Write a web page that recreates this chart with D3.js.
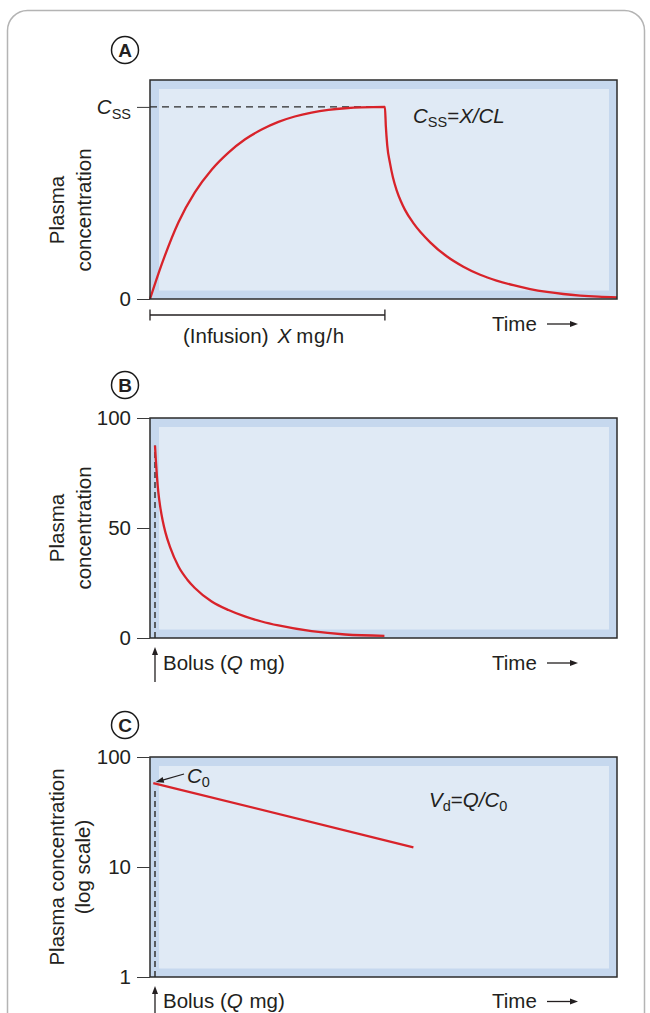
<!DOCTYPE html>
<html>
<head>
<meta charset="utf-8">
<script src="https://cdn.jsdelivr.net/npm/d3@7"></script>
<style>
  html, body { margin: 0; padding: 0; background: #ffffff; }
  svg { display: block; }
  text { font-family: "Liberation Sans", Arial, Helvetica, sans-serif; fill: #231f20; }
</style>
</head>
<body>
<svg id="chart" width="650" height="1013"></svg>
<script>
// ---------------- DATA ----------------
// Panel A: constant-rate infusion (concentration in % of Css), time in arbitrary units
const riseTime   = [0, 0.25, 0.61, 0.96, 1.32, 1.68, 2.03, 2.39, 2.75, 3.10, 3.46, 3.82, 4.18, 4.53, 5.03];
const riseConc   = [0, 18, 40, 55.5, 67.3, 76.2, 83, 88.2, 92.2, 95, 97, 98.4, 99.3, 99.8, 100];
const washTime   = [5.03, 5.05, 5.08, 5.14, 5.20, 5.28, 5.37, 5.46, 5.64, 6.00, 6.36, 6.71, 7.07, 7.42, 7.78, 8.14, 8.50, 8.85, 9.21, 9.60, 10.0];
const washConc   = [100, 90, 80, 70.6, 63.5, 56.7, 51, 46.4, 39.5, 29.5, 22.1, 16.8, 12.6, 9.6, 7.2, 5.2, 3.7, 2.6, 1.8, 1.2, 0.8];
const infusionEnd = 5.03;
const aTickValues = [0, 100];
const aTickLabels = ["0", "Css"];

// Panel B: IV bolus, linear scale
const bolusTime  = [0.107, 0.125, 0.15, 0.18, 0.22, 0.27, 0.33, 0.43, 0.61, 0.80, 0.96, 1.32, 1.68, 2.03, 2.39, 2.75, 3.46, 4.18, 5.02];
const bolusConc  = [87.5, 81, 73, 66, 59.5, 53.5, 48, 41.3, 32.5, 26.5, 22.7, 16.6, 12.7, 9.8, 7.5, 5.7, 3.1, 1.6, 1.0];
const bolusAt    = 0.107;
const bTickValues = [0, 50, 100];

// Panel C: IV bolus, log scale
const logTime    = [0.07, 5.64];
const logConc    = [58, 15.1];
const cTickValues = [1, 10, 100];

// ---------------- LAYOUT ----------------
const svg = d3.select("#chart");
const red = "#d8232a";
const outerFill = "#c6d8ee";
const innerFill = "#e0eaf5";
const frameCol = "#2b2b2b";
const fs = 20.5;

// card
svg.append("rect")
  .attr("x", 7.5).attr("y", 10.5).attr("width", 637).attr("height", 1100)
  .attr("rx", 20).attr("fill", "#fff").attr("stroke", "#b4b4b4").attr("stroke-width", 1.5);

const x = d3.scaleLinear().domain([0, 10]).range([150, 617]);

const panels = {
  A: { top: 80, bottom: 299, label: [125, 50] },
  B: { top: 418, bottom: 638, label: [125, 385] },
  C: { top: 757, bottom: 977, label: [125, 725] }
};

const yA = d3.scaleLinear().domain([0, 114]).range([panels.A.bottom, panels.A.top]);
const yB = d3.scaleLinear().domain([0, 100]).range([panels.B.bottom, panels.B.top]);
const yC = d3.scaleLog().domain([1, 100]).range([panels.C.bottom, panels.C.top]);

function frame(p) {
  const g = svg.append("g");
  const x0 = x.range()[0], x1 = x.range()[1];
  g.append("rect").attr("x", x0).attr("y", p.top).attr("width", x1 - x0).attr("height", p.bottom - p.top)
    .attr("fill", outerFill);
  g.append("rect").attr("x", x0 + 9).attr("y", p.top + 9).attr("width", x1 - x0 - 17).attr("height", p.bottom - p.top - 17.5)
    .attr("fill", innerFill);
  return g;
}
function border(p) {
  const x0 = x.range()[0], x1 = x.range()[1];
  svg.append("rect").attr("x", x0).attr("y", p.top).attr("width", x1 - x0).attr("height", p.bottom - p.top)
    .attr("fill", "none").attr("stroke", frameCol).attr("stroke-width", 1.5);
}
function circleLabel(p, letter) {
  const [cx, cy] = p.label;
  svg.append("circle").attr("cx", cx).attr("cy", cy).attr("r", 13.5)
    .attr("fill", "#fff").attr("stroke", "#1a1a1a").attr("stroke-width", 1.5);
  svg.append("text").attr("x", cx).attr("y", cy + 7).attr("text-anchor", "middle")
    .style("font-family", "'Liberation Sans Narrow', 'Liberation Sans', Arial, sans-serif")
    .style("font-weight", "bold").style("font-size", "19px").text(letter);
}
function yLabel(lines, cx, cy) {
  lines.forEach(([txt, bx]) => {
    svg.append("text").attr("transform", `translate(${bx},${cy}) rotate(-90)`)
      .attr("text-anchor", "middle").style("font-size", fs + "px").text(txt);
  });
}
function timeLabel(baseY) {
  svg.append("text").attr("x", 492).attr("y", baseY).style("font-size", fs + "px").text("Time");
  const ay = baseY - 6.5;
  svg.append("line").attr("x1", 547).attr("x2", 572).attr("y1", ay).attr("y2", ay)
    .attr("stroke", "#231f20").attr("stroke-width", 1.3);
  svg.append("path").attr("d", `M578,${ay} L570,${ay - 3} L570,${ay + 3} Z`).attr("fill", "#231f20");
}
function styleAxis(g) {
  g.select(".domain").remove();
  g.selectAll(".tick line").attr("stroke", "#3a3a3a").attr("stroke-width", 1);
  g.selectAll(".tick text").style("font-size", fs + "px").style("font-family", "'Liberation Sans', Arial, sans-serif").attr("fill", "#231f20");
}
function bolusMarker(p, baseY) {
  const bx = x(bolusAt);
  svg.append("line").attr("x1", bx).attr("x2", bx).attr("y1", baseY + 12).attr("y2", p.bottom + 15)
    .attr("stroke", "#231f20").attr("stroke-width", 1.3);
  svg.append("path").attr("d", `M${bx},${p.bottom + 9} L${bx - 3},${p.bottom + 17} L${bx + 3},${p.bottom + 17} Z`).attr("fill", "#231f20");
  const t = svg.append("text").attr("x", bx + 8).attr("y", baseY).style("font-size", fs + "px");
  t.append("tspan").text("Bolus (");
  t.append("tspan").style("font-style", "italic").text("Q");
  t.append("tspan").attr("dx", 1).text(" mg)");
}

const line = d3.line().x(d => x(d[0])).curve(d3.curveMonotoneX);

// ---------------- PANEL A ----------------
frame(panels.A);
// Css dashed reference
svg.append("line").attr("x1", x(0)).attr("x2", x(infusionEnd)).attr("y1", yA(100)).attr("y2", yA(100))
  .attr("stroke", "#2b2b2b").attr("stroke-width", 1.2).attr("stroke-dasharray", "7,5");
const aPts = riseTime.map((t, i) => [t, riseConc[i]]).concat(washTime.slice(1).map((t, i) => [t, washConc[i + 1]]));
svg.append("path").datum(aPts)
  .attr("d", line.y(d => yA(d[1])))
  .attr("fill", "none").attr("stroke", red).attr("stroke-width", 2.3).attr("stroke-linejoin", "round");
border(panels.A);
const axA = svg.append("g").attr("transform", `translate(${x(0)},0)`)
  .call(d3.axisLeft(yA).tickValues(aTickValues).tickSize(13).tickPadding(6).tickFormat((d, i) => aTickLabels[i]));
styleAxis(axA);
axA.selectAll(".tick text").each(function(d) {
  if (d === 100) {
    const t = d3.select(this); t.text(null);
    t.append("tspan").style("font-style", "italic").text("C");
    t.append("tspan").style("font-size", "14.5px").attr("dy", 5).text("SS");
  }
});
// annotation Css = X/CL
{
  const t = svg.append("text").attr("x", 413).attr("y", 122.5).style("font-size", fs + "px");
  t.append("tspan").style("font-style", "italic").text("C");
  t.append("tspan").style("font-size", "14.5px").attr("dy", 4.5).text("SS");
  t.append("tspan").attr("dy", -4.5).text("=");
  t.append("tspan").style("font-style", "italic").text("X/CL");
}
// infusion bracket
{
  const by = 315;
  svg.append("line").attr("x1", x(0)).attr("x2", x(infusionEnd)).attr("y1", by).attr("y2", by)
    .attr("stroke", "#231f20").attr("stroke-width", 1.3);
  [0, infusionEnd].forEach(t => svg.append("line").attr("x1", x(t)).attr("x2", x(t)).attr("y1", by - 5.5).attr("y2", by + 5.5)
    .attr("stroke", "#231f20").attr("stroke-width", 1.3));
  const t = svg.append("text").attr("x", 183).attr("y", 343).style("font-size", fs + "px");
  t.append("tspan").text("(Infusion)");
  t.append("tspan").attr("dx", 9).style("font-style", "italic").text("X");
  t.append("tspan").attr("dx", 5).style("letter-spacing", "0.8px").text("mg/h");
}
timeLabel(330.5);
yLabel([["Plasma", 64], ["concentration", 91]], 0, 210);
circleLabel(panels.A, "A");

// ---------------- PANEL B ----------------
frame(panels.B);
svg.append("line").attr("x1", x(bolusAt)).attr("x2", x(bolusAt)).attr("y1", panels.B.bottom).attr("y2", yB(bolusConc[0]))
  .attr("stroke", "#333").attr("stroke-width", 1.5).attr("stroke-dasharray", "6,4");
svg.append("path").datum(bolusTime.map((t, i) => [t, bolusConc[i]]))
  .attr("d", line.y(d => yB(d[1])))
  .attr("fill", "none").attr("stroke", red).attr("stroke-width", 2.3);
border(panels.B);
const axB = svg.append("g").attr("transform", `translate(${x(0)},0)`)
  .call(d3.axisLeft(yB).tickValues(bTickValues).tickSize(13).tickPadding(6).tickFormat(d3.format("d")));
styleAxis(axB);
bolusMarker(panels.B, 670);
timeLabel(669.5);
yLabel([["Plasma", 64], ["concentration", 91]], 0, 528);
circleLabel(panels.B, "B");

// ---------------- PANEL C ----------------
frame(panels.C);
svg.append("line").attr("x1", x(bolusAt)).attr("x2", x(bolusAt)).attr("y1", panels.C.bottom).attr("y2", yC(logConc[0]) + 4)
  .attr("stroke", "#333").attr("stroke-width", 1.5).attr("stroke-dasharray", "6,4");
svg.append("path").datum(logTime.map((t, i) => [t, logConc[i]]))
  .attr("d", d3.line().x(d => x(d[0])).y(d => yC(d[1])))
  .attr("fill", "none").attr("stroke", red).attr("stroke-width", 2.3);
border(panels.C);
const axC = svg.append("g").attr("transform", `translate(${x(0)},0)`)
  .call(d3.axisLeft(yC).tickValues(cTickValues).tickSize(13).tickPadding(6).tickFormat(d3.format("d")));
styleAxis(axC);
// C0 arrow + label
{
  const tx = x(logTime[0]) + 2.5, ty = yC(logConc[0]) - 1;
  svg.append("line").attr("x1", 184).attr("y1", 774).attr("x2", tx + 6).attr("y2", ty - 1.6)
    .attr("stroke", "#231f20").attr("stroke-width", 1.3);
  const ang = Math.atan2(774 - ty, 184 - tx);
  const L = 8, W = 3;
  const bx = tx + L * Math.cos(ang), by = ty + L * Math.sin(ang);
  const px = -Math.sin(ang) * W, py = Math.cos(ang) * W;
  svg.append("path").attr("d", `M${tx},${ty} L${bx + px},${by + py} L${bx - px},${by - py} Z`).attr("fill", "#231f20");
  const t = svg.append("text").attr("x", 187).attr("y", 783).style("font-size", fs + "px");
  t.append("tspan").style("font-style", "italic").text("C");
  t.append("tspan").style("font-size", "14.5px").attr("dy", 4).text("0");
}
{
  const t = svg.append("text").attr("x", 429).attr("y", 806.5).style("font-size", fs + "px");
  t.append("tspan").style("font-style", "italic").text("V");
  t.append("tspan").style("font-size", "14.5px").attr("dy", 4.5).text("d");
  t.append("tspan").attr("dy", -4.5).text("=");
  t.append("tspan").style("font-style", "italic").text("Q/C");
  t.append("tspan").style("font-size", "14.5px").attr("dy", 4.5).text("0");
}
bolusMarker(panels.C, 1007.5);
timeLabel(1008);
yLabel([["Plasma concentration", 64], ["(log scale)", 90]], 0, 867);
circleLabel(panels.C, "C");
</script>
</body>
</html>
